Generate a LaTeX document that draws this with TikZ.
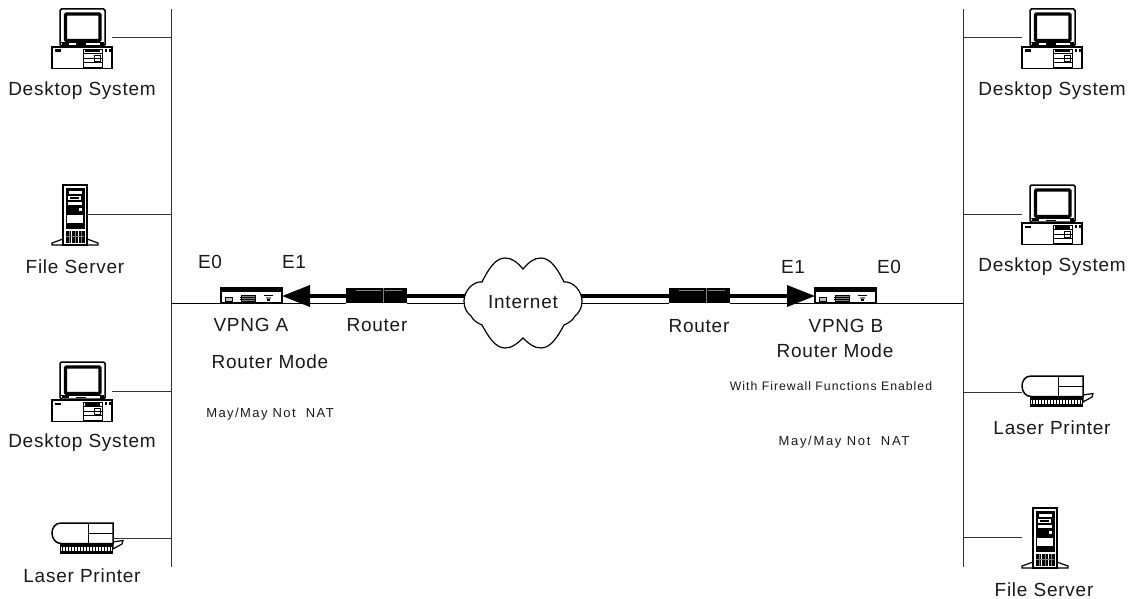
\documentclass[tikz,border=0pt]{standalone}
\usepackage{fontspec}
\setmainfont{Liberation Sans}
\newfontfamily\lblfont[LetterSpace=4]{Liberation Sans}
\newfontfamily\smallfont[LetterSpace=8]{Liberation Sans}
\newfontfamily\natlfont[LetterSpace=11]{Liberation Sans}
\newfontfamily\natrfont[LetterSpace=13]{Liberation Sans}
\usetikzlibrary{arrows.meta}
\definecolor{wire}{gray}{0.2}
\tikzset{
  lbl/.style={inner sep=0pt,font=\lblfont\fontsize{19}{19}\selectfont,text=black!90},
  sml/.style={inner sep=0pt,font=\smallfont\fontsize{12.3}{12.3}\selectfont,text=black!90},
  natl/.style={inner sep=0pt,font=\natlfont\fontsize{13}{13}\selectfont,text=black!90},
  natr/.style={inner sep=0pt,font=\natrfont\fontsize{13}{13}\selectfont,text=black!90},
  bus/.style={draw=wire,line width=1pt},
  stub/.style={draw=wire,line width=1pt},
  thin wire/.style={draw=black,line width=1pt},
  thick wire/.style={draw=black,line width=3.5pt},
  arrow wire/.style={draw=black,line width=3.5pt,-{Triangle[length=28pt,width=21pt]}},
  desktop/.pic={
    \draw[line width=1.5pt,rounded corners=1.5pt,fill=white] (8,0) rectangle (53,37);
    \draw[line width=3.4pt,rounded corners=1pt] (13.5,5) rectangle (48,31.5);
    \draw[line width=0.7pt] (9,33.5) -- (52,33.5);
    \fill (10,34) rectangle (17,36.2); \fill (24,34.5) rectangle (34,36); \fill (48,34) rectangle (52,36.5);
    \draw[line width=1.5pt,fill=white] (0,38) rectangle (60,59.5);
    \fill (3,40.5) rectangle (9,43);
    \draw[line width=0.8pt] (31,40) rectangle (50,58);
    \draw[line width=0.8pt] (31,44.5) -- (50,44.5) (31,49) -- (50,49) (31,53) -- (50,53);
    \fill (33,41) rectangle (48,43.5);
    \draw[line width=0.8pt] (42,46) rectangle (48,52);
    \fill (53,40) rectangle (55,43); \fill (56.5,40) rectangle (59,43);
    \coordinate (-l) at (0,29); \coordinate (-r) at (60,29);
  },
  fileserver/.pic={
    \draw[line width=1.2pt,fill=white] (0,60) -- (0,58) -- (11,54) -- (11,60) -- cycle;
    \draw[line width=1.2pt,fill=white] (46,60) -- (46,58) -- (35,54) -- (35,60) -- cycle;
    \draw[line width=1.5pt,fill=white] (11,0) rectangle (35,60);
    \fill (13.5,2.5) rectangle (32.5,44);
    \fill[white] (17,5.5) rectangle (30,9);
    \fill[white] (16,11) rectangle (29,15);
    \fill (18,12) rectangle (27,14);
    \fill[white] (16,17) rectangle (30,20);
    \fill[white] (27,23) rectangle (29.5,26);
    \fill[white] (15,29.5) rectangle (31,38);
    \fill[black] (14,46) rectangle (32.5,58);
    \draw[white,line width=0.8pt] (19.5,46) -- (19.5,58) (26,46) -- (26,58);
    \draw[gray,line width=0.5pt] (14,51) -- (32,51) (17,46) -- (17,58) (23,46) -- (23,58) (29,46) -- (29,58);
    \coordinate (-l) at (0,29.5); \coordinate (-r) at (35,29);
  },
  printer/.pic={
    \draw[line width=1.2pt,fill=white] (61,19) -- (71,17.5) -- (70,21) -- (61,26) -- cycle;
    \fill[black] (8,20) rectangle (61,30.5);
    \foreach \k in {9.5,11,...,60}{\draw[white,line width=0.5pt] (\k,23.5) -- (\k,27.5);}
    \draw[line width=1.5pt,fill=white] (61,0) -- (9,0) .. controls (3,0) and (0,5) .. (0,10) .. controls (0,16) and (4,20.5) .. (9,20.5) -- (61,20.5) -- cycle;
    \draw[line width=0.9pt] (36,0) -- (36,20.5) (36,10) -- (61,10);
    \coordinate (-l) at (0,16); \coordinate (-r) at (61,15);
  },
  vpng/.pic={
    \draw[line width=1.3pt,fill=white] (0,0) rectangle (61,15);
    \fill (0,0) rectangle (61,3.5);
    \draw[line width=0.7pt,fill=lightgray] (4,9.5) rectangle (11,13);
    \draw[line width=0.7pt,fill=gray] (20,7) rectangle (34,13);
    \draw[line width=0.5pt] (19,9) -- (35,9) (19,11) -- (35,11);
    \draw[line width=1pt] (43,7.5) -- (52,7.5);
    \fill[gray] (45,8.5) rectangle (50,10.5);
    \fill (46,10.5) rectangle (49,13);
    \coordinate (-l) at (0,15); \coordinate (-r) at (61,15);
    \coordinate (-tipl) at (0,8); \coordinate (-tipr) at (61,8);
  },
  routerbox/.pic={
    \fill (0,0) rectangle (61,15);
    \draw[gray,line width=0.7pt] (37,0) -- (37,15);
    \draw[gray,line width=0.5pt] (10,2) -- (35,2) (39,2) -- (56,2);
    \coordinate (-tl) at (0,8); \coordinate (-tr) at (61,8);
    \coordinate (-bl) at (0,15); \coordinate (-br) at (61,15);
  },
  cloud/.pic={
    \draw[line width=1.2pt,fill=white]
      (0,-34) .. controls (6,-41) and (11,-45) .. (18,-45)
      .. controls (28,-45) and (35,-33) .. (41,-21)
      .. controls (50,-22) and (59,-12) .. (59,-2)
      .. controls (59,5) and (56,10) .. (52,13)
      .. controls (50,17) and (46,20) .. (41,22)
      .. controls (35,33) and (28,45) .. (18,45)
      .. controls (11,45) and (6,41) .. (0,35)
      .. controls (-6,41) and (-11,45) .. (-18,45)
      .. controls (-28,45) and (-35,33) .. (-41,22)
      .. controls (-46,20) and (-50,17) .. (-52,13)
      .. controls (-56,10) and (-59,5) .. (-59,-2)
      .. controls (-59,-12) and (-50,-22) .. (-41,-21)
      .. controls (-35,-33) and (-28,-45) .. (-18,-45)
      .. controls (-11,-45) and (-6,-41) .. (0,-34) -- cycle;
  },
}
\begin{document}
\begin{tikzpicture}[x=1pt,y=-1pt]
\useasboundingbox (0,0) rectangle (1137,599);

% backbones
\coordinate (busLtop) at (171,9); \coordinate (busLbot) at (171,567);
\coordinate (busRtop) at (963,9); \coordinate (busRbot) at (963,567);
\draw[bus] (busLtop) -- (busLbot);
\draw[bus] (busRtop) -- (busRbot);

% devices
\pic (dl1) at (52,9) {desktop};
\pic (fl)  at (52,185) {fileserver};
\pic (dl2) at (52,362) {desktop};
\pic (pl)  at (52,523) {printer};
\pic (dr1) at (1022,9) {desktop};
\pic (dr2) at (1022,185) {desktop};
\pic (pr)  at (1022,376) {printer};
\pic (fr)  at (1022,508) {fileserver};

\draw[stub] (dl1-r) -- (dl1-r -| busLtop);
\draw[stub] (fl-r) -- (fl-r -| busLtop);
\draw[stub] (dl2-r) -- (dl2-r -| busLtop);
\draw[stub] (pl-r) -- (pl-r -| busLtop);
\draw[stub] (dr1-l) -- (dr1-l -| busRtop);
\draw[stub] (dr2-l) -- (dr2-l -| busRtop);
\draw[stub] (pr-l) -- (pr-l -| busRtop);
\draw[stub] (fr-l) -- (fr-l -| busRtop);

% centre
\pic (va) at (221,288) {vpng};
\pic (ra) at (346,288) {routerbox};
\pic (rb) at (669,288) {routerbox};
\pic (vb) at (815,288) {vpng};
\coordinate (cloudTL) at (465,296); \coordinate (cloudBL) at (465,303);
\coordinate (cloudTR) at (581,296); \coordinate (cloudBR) at (581,303);

\draw[thin wire] (va-l) -- (va-l -| busLtop);
\draw[thin wire] (vb-r) -- (vb-r -| busRtop);
\draw[thin wire] (va-r) -- (ra-bl);
\draw[thin wire] (ra-br) -- (cloudBL);
\draw[thin wire] (cloudBR) -- (rb-bl);
\draw[thin wire] (rb-br) -- (vb-l);
\draw[thick wire] (ra-tr) -- (cloudTL);
\draw[thick wire] (cloudTR) -- (rb-tl);
\draw[arrow wire] (ra-tl) -- (va-tipr);
\draw[arrow wire] (rb-tr) -- (vb-tipl);
\pic at (523,303) {cloud};

% labels
\node[lbl] (tdl1) at (82,91) {Desktop System};
\node[lbl] (tfl)  at (75,267) {File Server};
\node[lbl] (tdl2) at (82,443) {Desktop System};
\node[lbl] (tpl)  at (82,576) {Laser Printer};
\node[lbl] (tdr1) at (1052,91) {Desktop System};
\node[lbl] (tdr2) at (1052,267) {Desktop System};
\node[lbl] (tpr)  at (1052,428) {Laser Printer};
\node[lbl] (tfr)  at (1044,590) {File Server};
\node[lbl] (e0a) at (210,262) {E0};
\node[lbl] (e1a) at (294,262) {E1};
\node[lbl] (e1b) at (793,267) {E1};
\node[lbl] (e0b) at (889,267) {E0};
\node[lbl] (tva) at (251,325) {VPNG A};
\node[lbl] (tra) at (377,325) {Router};
\node[lbl] (trb) at (699,326) {Router};
\node[lbl] (tvb) at (846,326) {VPNG B};
\node[lbl] (tinet) at (523,302) {Internet};
\node[lbl] (mode a) at (270,362) {Router Mode};
\node[lbl] (mode b) at (835,351) {Router Mode};
\node[natl] (nat a) at (270,414) {May/May Not\ \ NAT};
\node[natr] (nat b) at (844,442) {May/May Not\ \ NAT};
\node[sml] (fw) at (831,386) {With Firewall Functions Enabled};
\end{tikzpicture}
\end{document}
